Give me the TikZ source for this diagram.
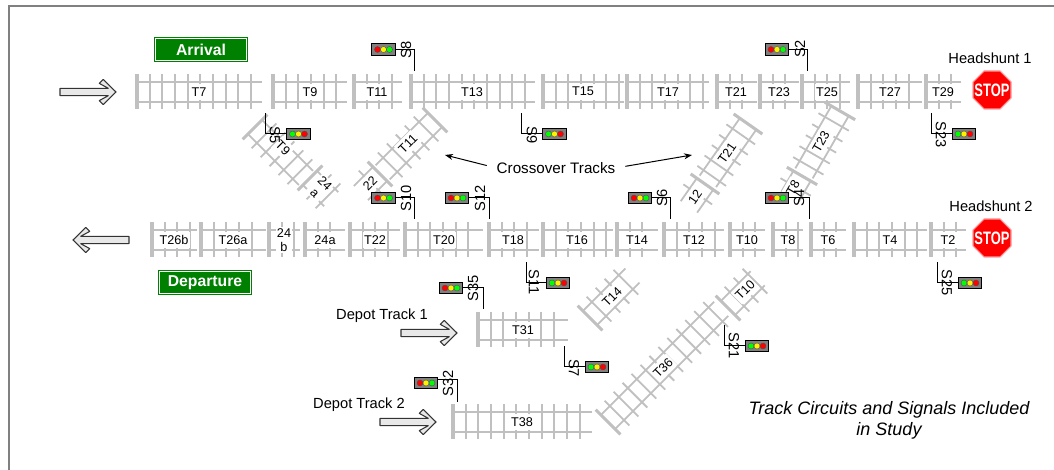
\documentclass[tikz,border=0pt]{standalone}
\usepackage{fontspec}
\setmainfont{Liberation Sans}
\usetikzlibrary{arrows.meta,calc}
\definecolor{railgray}{HTML}{C0C0C0}
\definecolor{signbody}{HTML}{808080}
\definecolor{signgreen}{HTML}{008000}
\definecolor{arrowfill}{HTML}{E8E8E8}
\definecolor{stoppink}{HTML}{FF9999}
\tikzset{
  rail/.style={draw=railgray,line width=1.35pt},
  thickend/.style={draw=railgray,line width=2.3pt},
  tracklabel/.style={fill=white,inner sep=1pt,font=\fontsize{9.5}{10.5}\selectfont,minimum height=12pt,align=center},
  signallabel/.style={inner sep=0pt,font=\fontsize{11}{12}\selectfont},
  signalbox/.style={draw=black,fill=signbody,line width=0.8pt,minimum width=17.5pt,minimum height=8.6pt,inner sep=0pt},
  signalwire/.style={draw=black,line width=0.75pt},
  bigtext/.style={inner sep=0pt,font=\fontsize{11}{13}\selectfont},
  blockarrow/.style={draw=black!80,fill=arrowfill,line width=0.8pt,line join=round},
  roadsign/.style={draw=white,fill=signgreen,line width=0.75pt,minimum width=69.5pt,minimum height=17.5pt,inner sep=0pt,text=white,font=\bfseries\fontsize{11.8}{13}\selectfont,outer sep=0pt},
  pointer/.style={draw=black,line width=0.75pt,-{Stealth[length=6pt,width=4.5pt]}}
}
% bed of a track in local coordinates, from 0 to #1
\newcommand{\trackbed}[1]{%
  \draw[rail] (0,-10)--(#1,-10) (0,10)--(#1,10);
  \draw[thickend] (0,-17.5)--(0,17.5);
  \pgfmathtruncatemacro{\ntie}{(#1-3)/12.67}
  \foreach \i in {1,...,\ntie}{\draw[rail] ({\i*12.67},-17.5)--({\i*12.67},17.5);}
}
% straight: x0, x1, yc, label x, node name, text
\newcommand{\strack}[6]{%
  \begin{scope}[shift={(#1,#3)}]\pgfmathsetmacro{\tlen}{#2-#1}\trackbed{\tlen}\end{scope}
  \node[tracklabel] (#5) at (#4,#3) {#6};
}
% diagonal: start x, y, angle, length
\newcommand{\dtrack}[4]{%
  \begin{scope}[shift={(#1,#2)},rotate=#3]\trackbed{#4}\end{scope}
}
\newcommand{\lamps}[4]{% box name, colours
  \fill[#2,draw=black!70,line width=0.25pt] ($(#1.center)+(-6,0)$) circle (3);
  \fill[#3,draw=black!70,line width=0.25pt] (#1.center) circle (3);
  \fill[#4,draw=black!70,line width=0.25pt] ($(#1.center)+(6,0)$) circle (3);
}
% signal: name, box cx, box cy, corner x, corner y, end y, label x, label y
\newcommand{\sigup}[8]{%
  \node[signalbox] (#1box) at (#2,#3) {};
  \coordinate (#1corner) at (#4,#5);
  \coordinate (#1end) at (#4,#6);
  \draw[signalwire] (#1box.east |- #1corner) -- (#1corner) -- (#1end);
  \lamps{#1box}{red}{yellow}{green}
  \node[signallabel,rotate=90] (#1) at (#7,#8) {#1};
}
\newcommand{\sigdown}[8]{%
  \node[signalbox] (#1box) at (#2,#3) {};
  \coordinate (#1corner) at (#4,#5);
  \coordinate (#1end) at (#4,#6);
  \draw[signalwire] (#1box.west |- #1corner) -- (#1corner) -- (#1end);
  \lamps{#1box}{green}{yellow}{red}
  \node[signallabel,rotate=-90] (#1) at (#7,#8) {#1};
}
% arrow: tip x, y, direction (1 right, -1 left)
\newcommand{\blockarrow}[3]{%
  \begin{scope}[shift={(#1,#2)},xscale=#3]
  \draw[blockarrow] (-56,-3.7)--(-7.7,-3.7)--(-16.7,-8.6)--(-12.7,-12.6)--(0,0)--(-12.7,12.6)--(-16.7,8.6)--(-7.7,3.7)--(-56,3.7)--cycle;
  \end{scope}
}
\newcommand{\stopsign}[3]{%
  \draw[draw=stoppink,fill=red,line width=0.8pt] (#2-19,#3-8)--(#2-8,#3-19)--(#2+8,#3-19)--(#2+19,#3-8)--(#2+19,#3+8)--(#2+8,#3+19)--(#2-8,#3+19)--(#2-19,#3+8)--cycle;
  \node[inner sep=0pt,text=white] (#1) at (#2,#3) {\scalebox{.72}[1]{\bfseries\fontsize{13.5}{14}\selectfont STOP}};
}
\begin{document}
\begin{tikzpicture}[x=0.75pt,y=-0.75pt]
\useasboundingbox (0,0) rectangle (1054,470);
\draw[signbody,line width=1.5pt] (1054,6.5)--(9,6.5)--(9,470);

% top row
\strack{137}{262}{91.7}{199}{T7}{T7}
\strack{273}{347}{91.7}{310}{T9}{T9}
\strack{354}{402}{91.7}{377}{T11}{T11}
\strack{411}{535}{91.7}{472}{T13}{T13}
\strack{543}{624}{91.7}{583}{T15}{T15}
\strack{627}{709}{91.7}{668}{T17}{T17}
\strack{717}{757}{91.7}{736}{T21}{T21}
\strack{760}{799}{91.7}{779}{T23}{T23}
\strack{802}{850}{91.7}{827}{T25}{T25}
\strack{858}{922}{91.7}{890}{T27}{T27}
\strack{926}{961}{91.7}{943}{T29}{T29}
% bottom row
\strack{152}{197}{240}{174}{T26b}{T26b}
\strack{201}{266}{240}{233}{T26a}{T26a}
\strack{269}{300}{240}{284}{24b}{24\\b}
\strack{305}{345}{240}{325}{24a}{24a}
\strack{350}{400}{240}{375}{T22}{T22}
\strack{405}{483}{240}{444}{T20}{T20}
\strack{489}{539}{240}{513}{T18}{T18}
\strack{543}{613}{240}{577}{T16}{T16}
\strack{617}{658}{240}{637}{T14}{T14}
\strack{664}{724}{240}{694}{T12}{T12}
\strack{730}{765}{240}{747}{T10}{T10}
\strack{773}{803}{240}{788}{T8}{T8}
\strack{811}{846}{240}{828}{T6}{T6}
\strack{854}{927}{240}{890}{T4}{T4}
\strack{931}{966}{240}{948}{T2}{T2}
% depot
\strack{478}{568}{330}{523}{T31}{T31}
\strack{453}{592}{422}{522}{T38}{T38}

% diagonals
\dtrack{255}{127}{-45}{72}
\dtrack{310}{178}{-45}{30}
\dtrack{435}{120}{225}{74}
\dtrack{380}{174}{225}{27}
\dtrack{748}{124}{235}{70}
\dtrack{705}{184}{235}{28}
\dtrack{840}{111}{240}{72}
\dtrack{802}{176}{240}{24}
\dtrack{590}{318}{45}{60}
\dtrack{728}{308}{45}{42}
\dtrack{608}{422}{45}{160}
\node[tracklabel,rotate=-45] (dT9) at (283,148) {T9};
\node[tracklabel,rotate=-45] (d24a) at (320,188) {24\\a};
\node[tracklabel,rotate=45] (dT11) at (408,144) {T11};
\node[tracklabel,rotate=45] (d22) at (370,183) {22};
\node[tracklabel,rotate=55] (dT21) at (727,153) {T21};
\node[tracklabel,rotate=55] (d12) at (695,197) {12};
\node[tracklabel,rotate=60] (dT23) at (821,142) {T23};
\node[tracklabel,rotate=60] (dT8) at (793,188) {T8};
\node[tracklabel,rotate=45] (dT14) at (612,297) {T14};
\node[tracklabel,rotate=45] (dT10) at (745,290) {T10};
\node[tracklabel,rotate=45] (dT36) at (663,368) {T36};

% signals
\sigup{S8}{383.5}{49.5}{414}{49.5}{71}{406}{50}
\sigup{S2}{777}{49.5}{807}{49.5}{71}{800}{49}
\sigup{S10}{383.5}{198}{414}{198}{219}{406}{198}
\sigup{S12}{457}{198}{489}{198}{219}{480}{198}
\sigup{S6}{640}{198}{670}{198}{219}{662}{198}
\sigup{S4}{777}{198}{809}{198}{219}{799}{198}
\sigup{S35}{451}{288}{483}{288}{309}{473}{288}
\sigup{S32}{426}{383}{457}{379.5}{402}{448}{383}
\sigdown{S5}{298.5}{134}{265}{134}{113}{275}{135}
\sigdown{S9}{554.5}{134}{521}{134}{113}{532}{135}
\sigdown{S23}{964}{134}{931}{134}{113}{941}{135}
\sigdown{S11}{558}{283}{526}{283}{262}{534}{282}
\sigdown{S25}{970}{283}{937}{283}{262}{947}{283}
\sigdown{S7}{597}{367}{564}{367}{346}{574}{368}
\sigdown{S21}{757}{346}{724}{346}{325}{734}{346}

% arrows
\blockarrow{116}{92}{1}
\blockarrow{73}{240}{-1}
\blockarrow{457}{333}{1}
\blockarrow{436}{422}{1}

% signs
\node[roadsign,double=signgreen] (arrival) at (201,49.5) {Arrival};
\node[roadsign,double=signgreen] (departure) at (205,282.5) {Departure};
\stopsign{stop1}{992}{90}
\stopsign{stop2}{992}{238}

% texts
\node[bigtext] (hs1) at (990,58) {Headshunt 1};
\node[bigtext] (hs2) at (991,206) {Headshunt 2};
\node[bigtext] (dep1) at (382,316) {Depot Track 1};
\node[bigtext] (dep2) at (359,405) {Depot Track 2};
\node[bigtext,font=\fontsize{11.4}{13}\selectfont] (cross) at (556,168) {Crossover Tracks};
\coordinate (crossL) at (445,155);
\coordinate (crossR) at (692,155);
\draw[pointer,shorten <=7.5pt] (cross.west) -- (crossL);
\draw[pointer,shorten <=7.5pt] (cross.east) -- (crossR);
\node[inner sep=0pt,align=center,font=\itshape\fontsize{13.5}{15.75}\selectfont] (study) at (889,420.5) {Track Circuits and Signals Included\\in Study};
\end{tikzpicture}
\end{document}
